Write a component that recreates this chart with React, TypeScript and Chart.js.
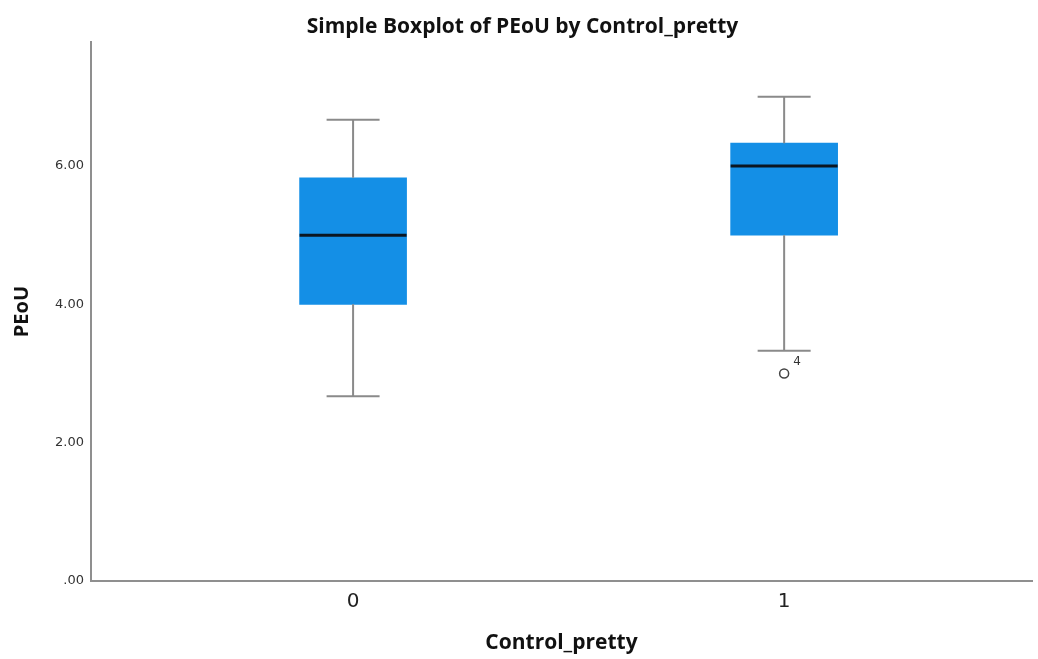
import React, { useEffect, useRef } from "react";
import { Chart, registerables } from "chart.js";

Chart.register(...registerables);

const categories = [0, 1];
const categoryLabels = ["0", "1"];
const whiskerLow = [2.67, 3.33];
const q1 = [4.0, 5.0];
const medians = [5.0, 6.0];
const q3 = [5.83, 6.33];
const whiskerHigh = [6.67, 7.0];
const outlierX = [1];
const outlierY = [3.0];
const outlierLabels = ["4"];
const yTicks = [0, 2, 4, 6];

const boxPlugin = {
  id: "boxWhiskers",
  afterDatasetsDraw(chart: any) {
    const { ctx, scales } = chart;
    const xs = scales.x;
    const ys = scales.y;
    ctx.save();
    categories.forEach((c, i) => {
      const cx = xs.getPixelForValue(c);
      const capHalf = 26.5;
      const boxHalf = 53.5;
      ctx.strokeStyle = "#8a8a8a";
      ctx.lineWidth = 2;
      ctx.beginPath();
      ctx.moveTo(cx, ys.getPixelForValue(q3[i]));
      ctx.lineTo(cx, ys.getPixelForValue(whiskerHigh[i]));
      ctx.moveTo(cx - capHalf, ys.getPixelForValue(whiskerHigh[i]));
      ctx.lineTo(cx + capHalf, ys.getPixelForValue(whiskerHigh[i]));
      ctx.moveTo(cx, ys.getPixelForValue(q1[i]));
      ctx.lineTo(cx, ys.getPixelForValue(whiskerLow[i]));
      ctx.moveTo(cx - capHalf, ys.getPixelForValue(whiskerLow[i]));
      ctx.lineTo(cx + capHalf, ys.getPixelForValue(whiskerLow[i]));
      ctx.stroke();
      ctx.strokeStyle = "#0b1622";
      ctx.lineWidth = 3;
      ctx.beginPath();
      ctx.moveTo(cx - boxHalf, ys.getPixelForValue(medians[i]));
      ctx.lineTo(cx + boxHalf, ys.getPixelForValue(medians[i]));
      ctx.stroke();
    });
    ctx.fillStyle = "#333";
    ctx.font = "12px 'DejaVu Sans'";
    ctx.textAlign = "left";
    ctx.textBaseline = "middle";
    outlierX.forEach((x, i) => {
      const px = xs.getPixelForValue(x);
      const py = ys.getPixelForValue(outlierY[i]);
      ctx.fillText(outlierLabels[i], px + 9, py - 12);
    });
    ctx.restore();
  },
};

export default function App() {
  const ref = useRef<HTMLCanvasElement>(null);
  useEffect(() => {
    if (!ref.current) return;
    const chart = new Chart(ref.current, {
      type: "bar",
      data: {
        datasets: [
          {
            type: "bar",
            label: "box",
            data: categories.map((c, i) => ({ x: c, y: [q1[i], q3[i]] })) as any,
            backgroundColor: "#148FE6",
            borderWidth: 0,
            barThickness: 107,
            order: 2,
          },
          {
            type: "scatter",
            label: "outliers",
            data: outlierX.map((x, i) => ({ x, y: outlierY[i] })),
            pointStyle: "circle",
            pointRadius: 4.5,
            backgroundColor: "#ffffff",
            borderColor: "#444",
            borderWidth: 1.5,
            order: 1,
          } as any,
        ],
      },
      plugins: [boxPlugin],
      options: {
        animation: false,
        responsive: true,
        maintainAspectRatio: false,
        layout: { padding: { left: 9, right: 2, top: 0, bottom: 0 } },
        plugins: {
          legend: { display: false },
          tooltip: { enabled: false },
          title: {
            display: true,
            text: "Simple Boxplot of PEoU by Control_pretty",
            color: "#111",
            font: { family: "'Open Sans'", size: 21, weight: "bold", lineHeight: 1.2 },
            padding: { top: 14, bottom: 3 },
          },
        },
        scales: {
          x: {
            type: "linear",
            offset: false,
            min: -0.608,
            max: 1.575,
            grid: { display: false, drawTicks: false, offset: false },
            border: { display: true, color: "#8f8f8f", width: 2 },
            afterBuildTicks: (s: any) => {
              s.ticks = categories.map((v) => ({ value: v }));
            },
            afterFit: (s: any) => {
              s.height = 78;
            },
            ticks: {
              color: "#222",
              font: { family: "'DejaVu Sans'", size: 20 },
              padding: 9,
              maxRotation: 0,
              autoSkip: false,
              callback: (v: any) => {
                const idx = categories.indexOf(Number(v));
                return idx >= 0 ? categoryLabels[idx] : "";
              },
            },
            title: {
              display: true,
              text: "Control_pretty",
              color: "#111",
              font: { family: "'Open Sans'", size: 21, weight: "bold", lineHeight: 1.2 },
              padding: { top: 0, bottom: 3 },
            },
          },
          y: {
            type: "linear",
            min: 0,
            max: 7.79,
            grid: { display: false, drawTicks: false },
            border: { display: true, color: "#8f8f8f", width: 2 },
            afterBuildTicks: (s: any) => {
              s.ticks = yTicks.map((v) => ({ value: v }));
            },
            afterFit: (s: any) => {
              s.width = 82;
            },
            ticks: {
              color: "#333",
              font: { family: "'DejaVu Sans'", size: 13 },
              padding: 7,
              callback: (v: any) => (Number(v) === 0 ? ".00" : Number(v).toFixed(2)),
            },
            title: {
              display: true,
              text: "PEoU",
              color: "#111",
              font: { family: "'Open Sans'", size: 20, weight: "bold", lineHeight: 1.2 },
              padding: { top: 1, bottom: 0 },
            },
          },
        },
      },
    });
    return () => chart.destroy();
  }, []);
  return (
    <div style={{ position: "fixed", left: 0, top: 0, width: 1038, height: 659, background: "#fff" }}>
      <canvas ref={ref} />
    </div>
  );
}
